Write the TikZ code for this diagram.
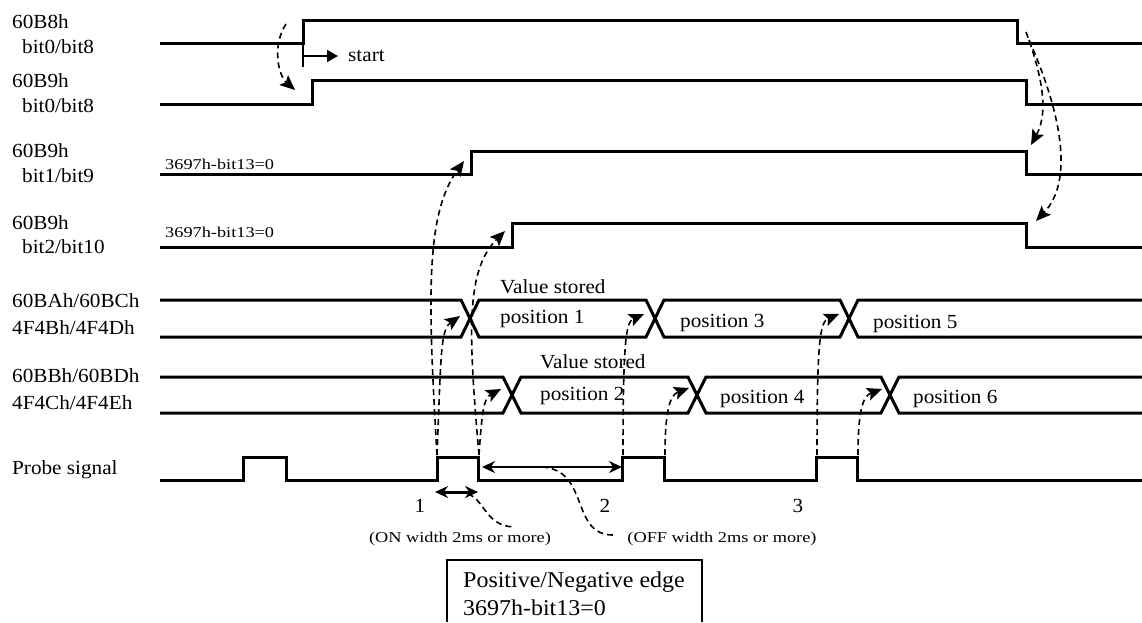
\documentclass[tikz,border=0pt]{standalone}
\usepackage{fontspec}
\setmainfont{Liberation Serif}[FakeStretch=1.06]
\newfontfamily\widefont[FakeStretch=1.22]{Liberation Serif}
\usetikzlibrary{arrows.meta}

\newcommand\lblsize{\fontsize{20}{22}\selectfont}
\newcommand\notesize{\widefont\fontsize{15}{18}\selectfont}
\newcommand\boxsize{\fontsize{22.6}{28}\selectfont}

\tikzset{
  sig/.style={line width=3pt, line join=miter},
  lbl/.style={font=\lblsize, anchor=base west, inner sep=0pt},
  note/.style={font=\notesize, anchor=base west, inner sep=0pt},
  cue/.style={line width=1.6pt, dash pattern=on 6pt off 4pt,
              -{Stealth[length=15pt,width=13pt,inset=3pt]}},
  trail/.style={line width=1.6pt, dash pattern=on 6pt off 4pt},
  wspan/.style={{Stealth[length=13pt,width=12pt]}-{Stealth[length=13pt,width=12pt]}},
}

\begin{document}
\begin{tikzpicture}[x=1pt,y=-1pt]
\useasboundingbox (0,0) rectangle (1142,622);

% ---------- row labels ----------
\node[lbl] (l1a) at (12,28) {60B8h};
\node[lbl] (l1b) at (22,53) {bit0/bit8};
\node[lbl] (l2a) at (12,87) {60B9h};
\node[lbl] (l2b) at (22,112) {bit0/bit8};
\node[lbl] (l3a) at (12,157) {60B9h};
\node[lbl] (l3b) at (22,182) {bit1/bit9};
\node[lbl] (l4a) at (12,229) {60B9h};
\node[lbl] (l4b) at (22,253) {bit2/bit10};
\node[lbl] (l5a) at (12,307) {60BAh/60BCh};
\node[lbl] (l5b) at (12,334) {4F4Bh/4F4Dh};
\node[lbl] (l6a) at (12,382) {60BBh/60BDh};
\node[lbl] (l6b) at (12,409) {4F4Ch/4F4Eh};
\node[lbl] (l7) at (12,474) {Probe signal};

% ---------- bit signals ----------
\draw[sig] (160,43) -- (303,43) -- (303,20) -- (1017,20) -- (1017,43) -- (1142,43);
\draw[sig] (160,104) -- (312,104) -- (312,80) -- (1026,80) -- (1026,104) -- (1142,104);
\draw[sig] (160,174) -- (471,174) -- (471,151) -- (1026,151) -- (1026,174) -- (1142,174);
\draw[sig] (160,247) -- (512,247) -- (512,223) -- (1026,223) -- (1026,247) -- (1142,247);
\node[note] (c3) at (165,169) {3697h-bit13=0};
\node[note] (c4) at (165,237) {3697h-bit13=0};

% start marker
\coordinate (go) at (303,56);
\node[lbl] (st) at (348,61) {start};
\draw[line width=1.5pt] (303,43) -- (303,67);
\draw[line width=1.5pt,-{Triangle[length=11pt,width=12pt]},shorten >=10pt] (go) -- (go -| st.west);

% ---------- data buses ----------
\draw[sig] (160,300) -- (461,300) -- (479,337) -- (646,337) -- (664,300) -- (840,300) -- (858,337) -- (1142,337);
\draw[sig] (160,337) -- (461,337) -- (479,300) -- (646,300) -- (664,337) -- (840,337) -- (858,300) -- (1142,300);
\draw[sig] (160,377) -- (503,377) -- (521,413) -- (688,413) -- (706,377) -- (881,377) -- (899,413) -- (1142,413);
\draw[sig] (160,413) -- (503,413) -- (521,377) -- (688,377) -- (706,413) -- (881,413) -- (899,377) -- (1142,377);
\node[lbl] (vs1) at (500,293) {Value stored};
\node[lbl] (vs2) at (540,368) {Value stored};
\node[lbl] (p1) at (500,323) {position 1};
\node[lbl] (p3) at (680,327) {position 3};
\node[lbl] (p5) at (873,328) {position 5};
\node[lbl] (p2) at (540,400) {position 2};
\node[lbl] (p4) at (720,403) {position 4};
\node[lbl] (p6) at (913,403) {position 6};

% ---------- probe ----------
\draw[sig] (160,480) -- (243,480) -- (243,457) -- (286,457) -- (286,480)
  -- (437,480) -- (437,457) -- (478,457) -- (478,480)
  -- (622,480) -- (622,457) -- (664,457) -- (664,480)
  -- (816,480) -- (816,457) -- (857,457) -- (857,480) -- (1142,480);
\coordinate (on1) at (437,455); \coordinate (off1) at (479,455);
\coordinate (on2) at (623,455); \coordinate (off2) at (665,455);
\coordinate (on3) at (817,455); \coordinate (off3) at (858,455);
\node[lbl,anchor=base] (n1) at (420,512) {1};
\node[lbl,anchor=base] (n2) at (605,512) {2};
\node[lbl,anchor=base] (n3) at (798,512) {3};

% ---------- edge cues ----------
\draw[cue] (286,24) .. controls (272,45) and (278,75) .. (295,90);
\draw[cue] (1026,32) .. controls (1040,70) and (1050,110) .. (1031,145);
\draw[cue] (1029,40) .. controls (1060,110) and (1075,180) .. (1036,221);
\draw[cue] (on1) .. controls (428,300) and (425,215) .. (464,161);
\draw[cue] (off1) .. controls (468,330) and (466,270) .. (505,231);
\draw[cue] (on1) .. controls (441,360) and (440,330) .. (460,316);
\draw[cue] (off1) .. controls (482,410) and (484,398) .. (501,389);
\draw[cue] (on2) .. controls (623,340) and (626,322) .. (644,314);
\draw[cue] (off2) .. controls (665,410) and (670,395) .. (689,388);
\draw[cue] (on3) .. controls (817,340) and (820,322) .. (839,314);
\draw[cue] (off3) .. controls (858,410) and (863,396) .. (882,389);

% ---------- widths ----------
\coordinate (wa) at (435,492); \coordinate (wb) at (478,492);
\coordinate (wc) at (482,467); \coordinate (wd) at (622,467);
\draw[wspan,line width=3pt] (wa) -- (wb);
\draw[wspan,line width=1.5pt] (wc) -- (wd);
\node[note,anchor=base] (onw) at (460,542) {(ON width 2ms or more)};
\node[note,anchor=base] (offw) at (722,542) {(OFF width 2ms or more)};
\draw[trail] (468,494) .. controls (485,500) and (485,525) .. (513,527);
\draw[trail] (542,467) .. controls (590,470) and (570,535) .. (613,535);

% ---------- edge box ----------
\node[font=\boxsize,align=left,anchor=north west,inner sep=0pt] (edge) at (463,571.5)
  {Positive/Negative edge\\3697h-bit13=0};
\draw[line width=1.5pt] (447,622) |- (702,560) -- (702,622);
\end{tikzpicture}
\end{document}
